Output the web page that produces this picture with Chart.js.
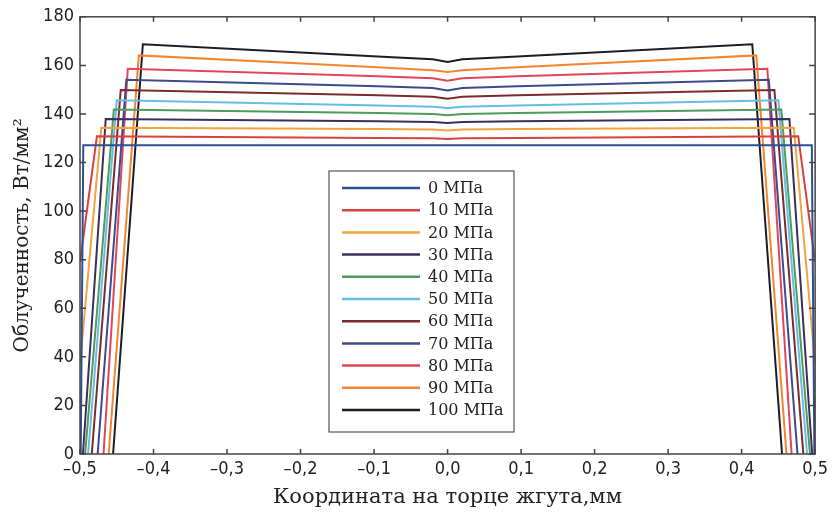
<!DOCTYPE html>
<html>
<head>
<meta charset="utf-8">
<script src="https://cdn.jsdelivr.net/npm/chart.js@4.4.1/dist/chart.umd.min.js"></script>
<style>
  html, body { margin: 0; padding: 0; background: #fff; }
</style>
</head>
<body>
<canvas id="irrChart" width="833" height="516"></canvas>
<script>
const ctx = document.getElementById('irrChart').getContext('2d');

// pressure labels and line colours
const labels = ['0 МПа', '10 МПа', '20 МПа', '30 МПа', '40 МПа', '50 МПа', '60 МПа', '70 МПа', '80 МПа', '90 МПа', '100 МПа'];
const colors = ['#2c4f96', '#d9413f', '#f2a340', '#3b2d5c', '#4f9a5c', '#66bde3', '#7a2b2d', '#3d4b8c', '#e2445a', '#f3852f', '#1d1b28'];

// (left half, the curves are symmetric about 0)
const edgeX = [-0.499, -0.5, -0.5, -0.496, -0.493, -0.489, -0.484, -0.476, -0.468, -0.461, -0.455];
const edgeY = [0, 79, 37, 0, 0, 0, 0, 0, 0, 0, 0];
const peakX = [-0.4955, -0.477, -0.471, -0.465, -0.454, -0.450, -0.4446, -0.437, -0.435, -0.420, -0.4145];
const peakY = [127.1, 130.8, 134.3, 137.9, 141.8, 145.6, 149.9, 154.1, 158.6, 164.1, 168.7];
const plateauY = [127.1, 130.1, 133.8, 137.0, 140.4, 143.5, 147.7, 151.4, 155.5, 159.2, 163.7]; // at x = -0.095
const nearY = [127.1, 130.0, 133.6, 136.7, 140.0, 143.0, 147.1, 150.7, 154.7, 158.0, 162.5];    // at x = -0.02
const centerY = [127.1, 129.7, 133.2, 136.3, 139.5, 142.5, 146.3, 149.7, 153.7, 157.3, 161.4];

const xTicks = [-0.5, -0.4, -0.3, -0.2, -0.1, 0, 0.1, 0.2, 0.3, 0.4, 0.5];
const yTicks = [0, 20, 40, 60, 80, 100, 120, 140, 160, 180];

function curve(i) {
  const left = [
    {x: edgeX[i], y: edgeY[i]},
    {x: peakX[i], y: peakY[i]},
    {x: -0.095, y: plateauY[i]},
    {x: -0.02, y: nearY[i]}
  ];
  const right = left.slice().reverse().map(p => ({x: -p.x, y: p.y}));
  return left.concat([{x: 0, y: centerY[i]}], right);
}

const datasets = labels.map((lab, i) => ({
  label: lab,
  data: curve(i),
  borderColor: colors[i],
  backgroundColor: colors[i],
  borderWidth: 2,
  pointRadius: 0,
  tension: 0,
  fill: false
}));

const tickFont = { family: "'Liberation Sans Narrow', 'DejaVu Sans Condensed', sans-serif", size: 18 };
const titleFont = { family: "'DejaVu Serif', 'Liberation Serif', serif", size: 20 };

// frame with inward ticks on all four sides, legend box inside the plot
const framePlugin = {
  id: 'frame',
  afterDatasetsDraw(chart) {
    const {ctx, chartArea: a, scales} = chart;
    ctx.save();
    ctx.strokeStyle = '#444';
    ctx.lineWidth = 1.5;
    ctx.strokeRect(a.left, a.top, a.right - a.left, a.bottom - a.top);
    ctx.beginPath();
    xTicks.forEach(v => {
      const px = scales.x.getPixelForValue(v);
      ctx.moveTo(px, a.bottom); ctx.lineTo(px, a.bottom - 5);
      ctx.moveTo(px, a.top); ctx.lineTo(px, a.top + 5);
    });
    yTicks.forEach(v => {
      const py = scales.y.getPixelForValue(v);
      ctx.moveTo(a.left, py); ctx.lineTo(a.left + 6, py);
      ctx.moveTo(a.right, py); ctx.lineTo(a.right - 6, py);
    });
    ctx.stroke();
    ctx.restore();
  },
  afterDraw(chart) {
    const {ctx} = chart;
    const bx = 329, by = 171, bw = 185, bh = 261;
    ctx.save();
    ctx.fillStyle = '#fff';
    ctx.fillRect(bx, by, bw, bh);
    ctx.strokeStyle = '#555';
    ctx.lineWidth = 1.2;
    ctx.strokeRect(bx, by, bw, bh);
    ctx.font = "16px 'DejaVu Serif', 'Liberation Serif', serif";
    ctx.textBaseline = 'middle';
    chart.data.datasets.forEach((ds, i) => {
      const y = by + 17 + i * 22.2;
      ctx.strokeStyle = ds.borderColor;
      ctx.lineWidth = 2.5;
      ctx.beginPath();
      ctx.moveTo(bx + 13, y);
      ctx.lineTo(bx + 91, y);
      ctx.stroke();
      ctx.fillStyle = '#222';
      ctx.fillText(ds.label, bx + 99, y + 1);
    });
    ctx.restore();
  }
};

const config = {
  type: 'line',
  data: { datasets: datasets },
  options: {
    responsive: false,
    animation: false,
    devicePixelRatio: 1,
    layout: { padding: { top: 15, right: 13, left: 0, bottom: 0 } },
    plugins: {
      legend: { display: false },
      tooltip: { enabled: false }
    },
    scales: {
      x: {
        type: 'linear',
        min: -0.5,
        max: 0.5,
        afterFit: s => { s.height = 62; },
        afterBuildTicks: s => { s.ticks = xTicks.map(v => ({value: v})); },
        grid: { display: false, drawTicks: false },
        border: { display: false },
        ticks: {
          color: '#222',
          font: tickFont,
          padding: 5,
          maxRotation: 0,
          callback: v => (v < -1e-9 ? '–' : '') + Math.abs(v).toFixed(1).replace('.', ',')
        },
        title: {
          display: true,
          text: 'Координата на торце жгута,мм',
          color: '#222',
          font: { family: titleFont.family, size: 21 },
          padding: { top: 0, bottom: 6 }
        }
      },
      y: {
        type: 'linear',
        min: 0,
        max: 180,
        afterFit: s => { s.width = 80; },
        afterBuildTicks: s => { s.ticks = yTicks.map(v => ({value: v})); },
        grid: { display: false, drawTicks: false },
        border: { display: false },
        ticks: { color: '#222', font: tickFont, padding: 6 },
        title: {
          display: true,
          text: 'Облученность, Вт/мм²',
          color: '#222',
          font: titleFont,
          padding: { top: 11, bottom: 0 }
        }
      }
    }
  },
  plugins: [framePlugin]
};

const irrChart = new Chart(ctx, config);
</script>
</body>
</html>
